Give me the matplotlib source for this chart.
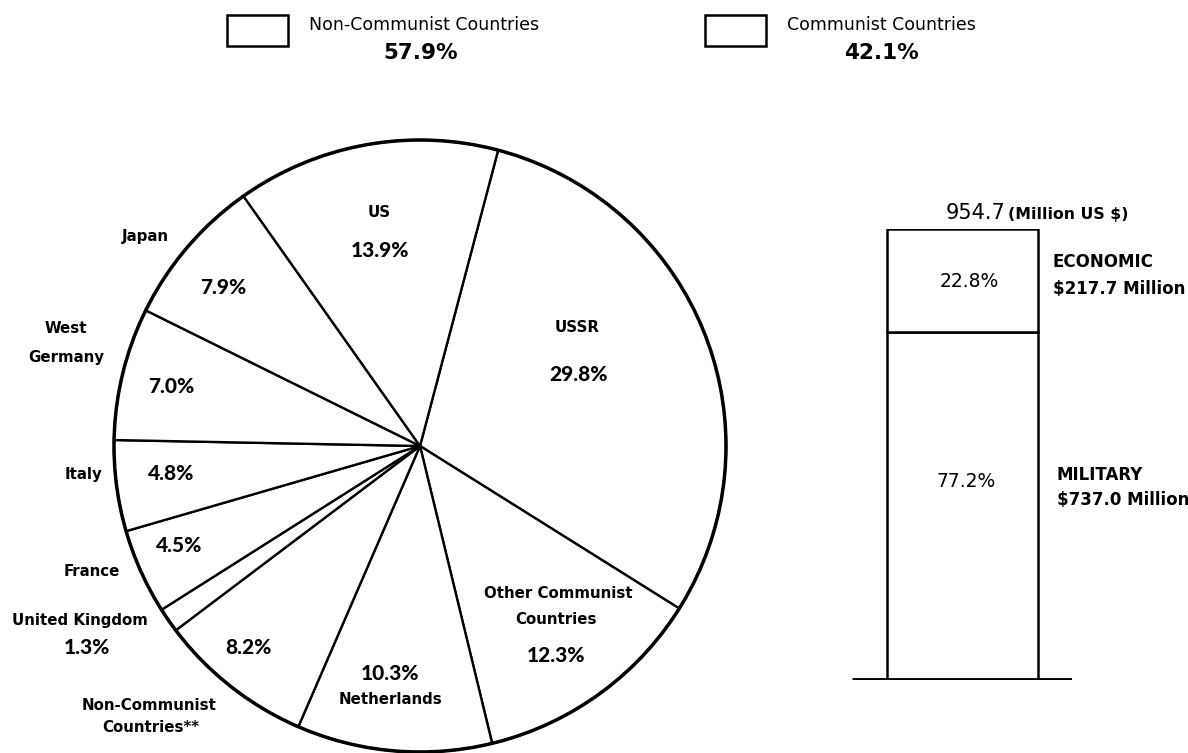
import matplotlib
matplotlib.use("Agg")
import matplotlib.pyplot as plt
from matplotlib.patches import Rectangle

# Shares of aid by donor (percent), clockwise from the top
donors = ["USSR", "Other Communist Countries", "Netherlands", "Non-Communist Countries**",
          "United Kingdom", "France", "Italy", "West Germany", "Japan", "US"]
shares = [29.8, 12.3, 10.3, 8.2, 1.3, 4.5, 4.8, 7.0, 7.9, 13.9]

# Legend totals
group_names = ["Non-Communist Countries", "Communist Countries"]
group_shares = [57.9, 42.1]

# Economic / military split of the total
total_aid = 954.7
aid_types = ["MILITARY", "ECONOMIC"]
aid_pct = [77.2, 22.8]
aid_amount = [737.0, 217.7]

W, H = 1188, 753
fig = plt.figure(figsize=(W / 100, H / 100), dpi=100)
fig.patch.set_facecolor("white")

small = dict(family="DejaVu Sans", fontweight="bold", fontsize=10.8, ha="center", va="center")
big = dict(family="Lato", fontweight="black", fontsize=15, ha="center", va="center")

# ---- pie ----
cx, cy, R = 420, 446, 306
pad = 6
axp = fig.add_axes([(cx - R - pad) / W, (H - cy - R - pad) / H,
                    2 * (R + pad) / W, 2 * (R + pad) / H])
axp.pie(shares, startangle=75.2, counterclock=False, radius=1.0, frame=True,
        colors=["white"] * len(shares),
        wedgeprops=dict(edgecolor="black", linewidth=1.7))
axp.add_patch(plt.Circle((0, 0), 1.0, fill=False, edgecolor="black", linewidth=2.5))
lim = (R + pad) / R
axp.set_xlim(-lim, lim)
axp.set_ylim(-lim, lim)
axp.axis("off")

# ---- stacked bar ----
bx0, bx1 = 852, 1072
btop, bbot = 229, 680
axb = fig.add_axes([bx0 / W, (H - bbot) / H, (bx1 - bx0) / W, (bbot - btop) / H])
bottom = 0
for p in aid_pct:
    axb.bar(0.5, p, width=151 / (bx1 - bx0), bottom=bottom, color="white",
            edgecolor="black", linewidth=1.8)
    bottom += p
axb.axhline(0, color="black", linewidth=3.5, solid_capstyle="butt")
axb.set_xlim(0, 1)
axb.set_ylim(0, sum(aid_pct))
axb.axis("off")

# ---- text and legend, in pixel coordinates ----
ax = fig.add_axes([0, 0, 1, 1], facecolor="none")
ax.set_xlim(0, W)
ax.set_ylim(H, 0)
ax.axis("off")

for (bx, tx, vx), name, s in zip([(227, 309, 421), (705, 787, 881)], group_names, group_shares):
    ax.add_patch(Rectangle((bx, 15), 61, 31, fill=False, edgecolor="black", linewidth=1.8))
    ax.text(tx, 25, name, family="DejaVu Sans", fontsize=12.5, ha="left", va="center")
    ax.text(vx, 53, f"{s}%", family="DejaVu Sans", fontweight="bold",
            fontsize=15.5, ha="center", va="center")

pct = dict(zip(donors, shares))

ax.text(379, 212, "US", **small)
ax.text(380, 250, f"{pct['US']}%", **big)
ax.text(145, 236, "Japan", **small)
ax.text(223, 287, f"{pct['Japan']}%", **big)
ax.text(66, 328, "West", **small)
ax.text(66, 357, "Germany", **small)
ax.text(171, 386, f"{pct['West Germany']}%", **big)
ax.text(84, 474, "Italy", **small)
ax.text(171, 473, f"{pct['Italy']}%", **big)
ax.text(179, 546, f"{pct['France']}%", **big)
ax.text(92, 572, "France", **small)
ax.text(80, 620, "United Kingdom", **small)
ax.text(87, 648, f"{pct['United Kingdom']}%", **big)
ax.text(248, 648, f"{pct['Non-Communist Countries**']}%", **big)
ax.text(149, 705, "Non-Communist", **small)
ax.text(151, 728, "Countries**", **small)
ax.text(390, 673, f"{pct['Netherlands']}%", **big)
ax.text(390, 700, "Netherlands", **small)
ax.text(558, 594, "Other Communist", **small)
ax.text(556, 619, "Countries", **small)
ax.text(556, 656, f"{pct['Other Communist Countries']}%", **big)
ax.text(577, 327, "USSR", **small)
ax.text(578, 374, f"{pct['USSR']}%", **big)

# bar labels
ax.text(1005, 213, f"{total_aid}", family="DejaVu Sans", fontsize=15, ha="right", va="center")
ax.text(1008, 214, "(Million US $)", family="DejaVu Sans", fontweight="bold", fontsize=11.3,
        ha="left", va="center")
ax.text(969, 281, f"{aid_pct[1]}%", family="DejaVu Sans", fontsize=13.5, ha="center", va="center")
ax.text(966, 481, f"{aid_pct[0]}%", family="DejaVu Sans", fontsize=13.5, ha="center", va="center")
lbl = dict(family="DejaVu Sans", fontweight="bold", fontsize=12, ha="left", va="center")
ax.text(1053, 262, aid_types[1], **lbl)
ax.text(1053, 289, f"${aid_amount[1]} Million", **lbl)
ax.text(1057, 475, aid_types[0], **lbl)
ax.text(1057, 500, f"${aid_amount[0]} Million", **lbl)

fig.savefig("out.png", dpi=100)
